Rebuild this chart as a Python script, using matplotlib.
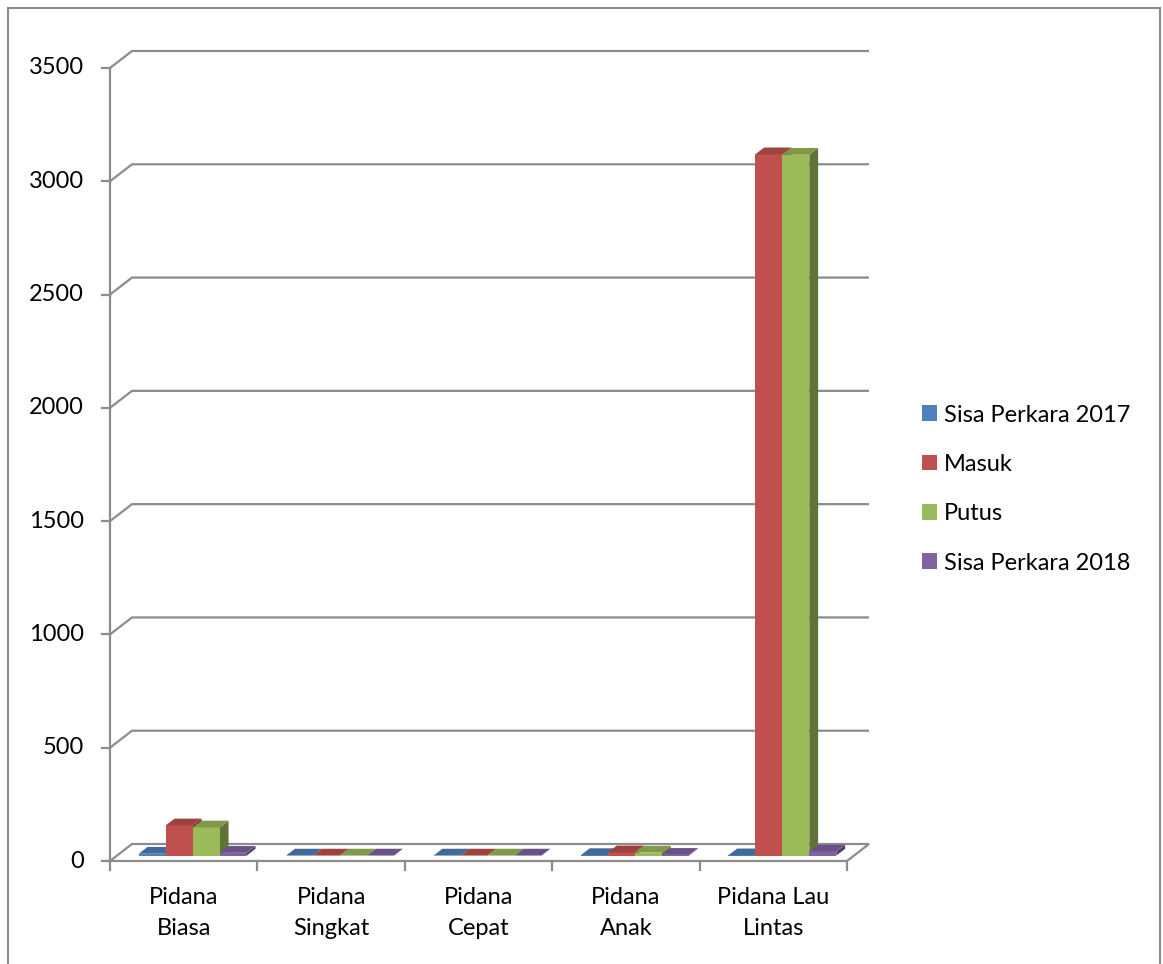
import matplotlib
matplotlib.use("Agg")
import matplotlib.pyplot as plt
from matplotlib.patches import Polygon, Rectangle, Patch

# ---- data ----
categories = ["Pidana\nBiasa", "Pidana\nSingkat", "Pidana\nCepat", "Pidana\nAnak", "Pidana Lau\nLintas"]
series_names = ["Sisa Perkara 2017", "Masuk", "Putus", "Sisa Perkara 2018"]
sisa_2017 = [8, 0, 0, 2, 1]
masuk = [133, 0, 0, 14, 3095]
putus = [124, 0, 0, 13, 3093]
sisa_2018 = [12, 0, 0, 3, 18]
yticks = [0, 500, 1000, 1500, 2000, 2500, 3000, 3500]
colors = ["#4F81BD", "#C0504D", "#9BBB59", "#8064A2"]

W, H = 1163, 964
fig = plt.figure(figsize=(W / 100, H / 100), dpi=100)
plt.rcParams['font.family'] = ['Lato', 'DejaVu Sans']
FS = 17

# axes mapped so that x 0..5 -> px 110..847, y 0..3500 -> px 861..68
x0, x1 = 110, 847
y0, y1 = 861, 68
ax = fig.add_axes([x0 / W, (H - y0) / H, (x1 - x0) / W, (y0 - y1) / H])
ax.set_xlim(0, len(categories))
ax.set_ylim(0, 3500)
ax.axis("off")

px_x = len(categories) / (x1 - x0)      # data units per pixel (x)
px_y = 3500 / (y0 - y1)                  # data units per pixel (y)
DX = 22 * px_x
DY = 17 * px_y
grid_c = "#8C8C8C"
lw = 1.6

# floor
floor = Polygon([(0, 0), (5, 0), (5 + DX, DY), (DX, DY)], closed=True,
                facecolor="white", edgecolor=grid_c, lw=lw, clip_on=False, zorder=1)
ax.add_patch(floor)

# gridlines (back wall) with connectors
for v in yticks[1:]:
    ax.plot([0, DX, 5 + DX], [v, v + DY, v + DY], color=grid_c, lw=lw,
            clip_on=False, zorder=1, solid_capstyle="butt")

# y axis and ticks
ax.plot([0, 0], [0, 3500], color=grid_c, lw=lw, clip_on=False, zorder=1)
for v in yticks:
    ax.plot([-8 * px_x, 0], [v, v], color=grid_c, lw=lw, clip_on=False, zorder=1)
    ax.text(-26 * px_x, v, str(v), ha="right", va="center", fontsize=FS,
            color="black")

# x category ticks
for i in range(len(categories) + 1):
    ax.plot([i, i], [0, -9 * px_y], color=grid_c, lw=lw, clip_on=False, zorder=1)
for i, c in enumerate(categories):
    ax.text(i + 0.5, -52 * px_y, c, ha="center", va="center", fontsize=FS,
            linespacing=1.55, color="black")

# bars (pseudo 3D)
def shade(c, f):
    r, g, b = matplotlib.colors.to_rgb(c)
    return (r * f, g * f, b * f)

series = [sisa_2017, masuk, putus, sisa_2018]
bw = 27 * px_x
d0, d1 = 0.32, 0.72
for i in range(len(categories)):
    gx = i + 0.5 - 2 * bw + 2 * px_x
    for j, vals in enumerate(series):
        v = vals[i]
        xl = gx + j * bw + d0 * DX
        yb = d0 * DY
        yt = yb + v
        ddx = (d1 - d0) * DX
        ddy = (d1 - d0) * DY
        c = colors[j]
        front = Rectangle((xl, yb), bw, v, facecolor=c, edgecolor="none",
                          clip_on=False, zorder=3)
        top = Polygon([(xl, yt), (xl + bw, yt), (xl + bw + ddx, yt + ddy), (xl + ddx, yt + ddy)],
                      closed=True, facecolor=shade(c, 0.82), edgecolor="none",
                      clip_on=False, zorder=3)
        side = Polygon([(xl + bw, yb), (xl + bw + ddx, yb + ddy), (xl + bw + ddx, yt + ddy), (xl + bw, yt)],
                       closed=True, facecolor=shade(c, 0.62), edgecolor="none",
                       clip_on=False, zorder=3)
        ax.add_patch(side)
        ax.add_patch(front)
        ax.add_patch(top)

# legend
handles = [Patch(facecolor=c, edgecolor="none") for c in colors]
fig.legend(handles, series_names, loc="center left",
           bbox_to_anchor=(922 / W, 1 - 489 / H), frameon=False, fontsize=FS,
           handlelength=0.64, handleheight=0.64, handletextpad=0.3,
           labelspacing=1.2, borderaxespad=0, borderpad=0)

# outer border
fig.patches.append(Rectangle((8 / W, -0.01), (1160 - 8) / W, 1 - 8 / H + 0.01,
                             transform=fig.transFigure, fill=False,
                             edgecolor="#8C8C8C", lw=1.5))

fig.savefig("out.png", dpi=100)
